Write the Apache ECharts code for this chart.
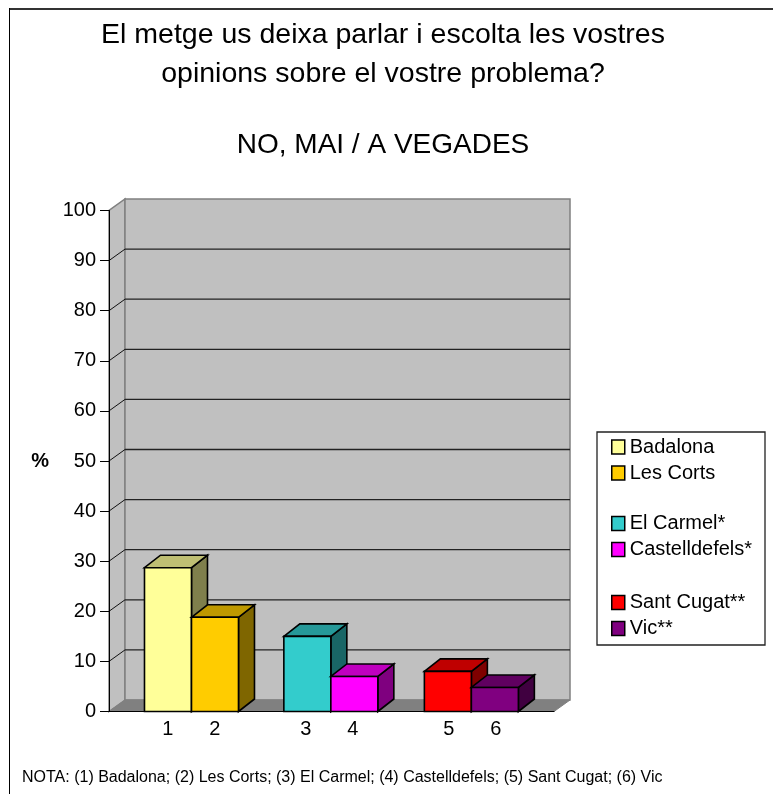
<!DOCTYPE html>
<html><head><meta charset="utf-8">
<style>html,body{margin:0;padding:0;background:#fff}#c{width:773px;height:794px}</style>
<script src="https://cdn.jsdelivr.net/npm/echarts@6/dist/echarts.min.js"></script>
</head><body><div id="c"></div>
<script>
const names = ['Badalona','Les Corts','El Carmel*','Castelldefels*','Sant Cugat**','Vic**'];
const tickLabels = ['1','2','3','4','5','6'];
const positions = [1.255,2.255,4.22,5.22,7.21,8.21];
const labelPositions = [1.25,2.25,4.19,5.19,7.23,8.23];
const values = [28.7,18.8,15,7,8,4.8];
const frontColors = ['#FFFF99','#FFCC00','#33CCCC','#FF00FF','#FF0000','#800080'];
const topColors = ['#BFBF73','#BF9900','#269999','#BF00BF','#BF0000','#600060'];
const sideColors = ['#7F7F4C','#7F6600','#196666','#7F007F','#7F0000','#400040'];
const yTicks = [0,10,20,30,40,50,60,70,80,90,100];
const xMax = 9.468, barSpan = 0.5;
const dx = 16, dy = -11.5, barDy = -12.5;
const FONT = '"Liberation Sans", Arial, sans-serif';

function poly(points, fill, stroke, lw){
  return {type:'polygon',shape:{points},style:{fill,stroke,lineWidth:lw}};
}
function line(x1,y1,x2,y2,stroke,lw){
  return {type:'line',shape:{x1,y1,x2,y2},style:{stroke,lineWidth:lw}};
}
function renderWalls(params, api){
  if(params.dataIndex!==0) return {type:'group',children:[]};
  const a=api.coord([0,0]), b=api.coord([xMax,0]), t=api.coord([0,100]);
  const c=[];
  c.push(poly([a,[a[0]+dx,a[1]+dy],[t[0]+dx,t[1]+dy],t],'#C0C0C0','#808080',1.5));
  c.push(poly([[a[0]+dx,a[1]+dy],[b[0]+dx,b[1]+dy],[b[0]+dx,t[1]+dy],[t[0]+dx,t[1]+dy]],'#C0C0C0','#808080',1.5));
  c.push(poly([a,b,[b[0]+dx,b[1]+dy],[a[0]+dx,a[1]+dy]],'#808080','#808080',1));
  yTicks.forEach(v=>{
    const p=api.coord([0,v]);
    if(v>0&&v<100) c.push(line(p[0]+dx,p[1]+dy,b[0]+dx,p[1]+dy,'#222',1.3));
    if(v>0&&v<100) c.push(line(p[0],p[1],p[0]+dx,p[1]+dy,'#111',1));
  });
  return {type:'group',children:c};
}
function renderBar(i){
  return function(params, api){
    const l=api.coord([positions[i]-barSpan,api.value(1)]);
    const r=api.coord([positions[i]+barSpan,0]);
    const x0=l[0],x1=r[0],yt=l[1],yb=r[1];
    return {type:'group',children:[
      poly([[x1,yt],[x1+dx,yt+barDy],[x1+dx,yb+barDy],[x1,yb]],sideColors[i],'#000',1.6),
      poly([[x0,yt],[x0+dx,yt+barDy],[x1+dx,yt+barDy],[x1,yt]],topColors[i],'#000',1.6),
      poly([[x0,yt],[x1,yt],[x1,yb],[x0,yb]],frontColors[i],'#000',1.6)
    ]};
  };
}
const legendBase = {orient:'vertical',left:606,icon:'rect',itemWidth:13,itemHeight:14,itemGap:-1,selectedMode:false,
  textStyle:{fontFamily:FONT,fontSize:20,lineHeight:22,color:'#000',padding:[0,0,5,0]},
  itemStyle:{borderColor:'#000',borderWidth:1.5}};
const series=[{type:'custom',name:'walls',silent:true,z:1,data:[[0,0]],renderItem:renderWalls,coordinateSystem:'cartesian2d'}];
names.forEach((n,i)=>series.push({type:'custom',name:n,z:2+i,silent:true,coordinateSystem:'cartesian2d',
  itemStyle:{color:frontColors[i]},data:[[positions[i],values[i]]],renderItem:renderBar(i),clip:false}));

const chart=echarts.init(document.getElementById('c'),null,{renderer:'canvas'});
chart.setOption({
  animation:false,backgroundColor:'#fff',
  title:[
    {text:'El metge us deixa parlar i escolta les vostres\nopinions sobre el vostre problema?',left:378,top:11,textAlign:'center',
     textStyle:{fontFamily:FONT,fontSize:28.5,fontWeight:'normal',color:'#000',lineHeight:39}},
    {text:'NO, MAI / A VEGADES',left:378,top:121,textAlign:'center',
     textStyle:{fontFamily:FONT,fontSize:28,fontWeight:'normal',color:'#000',lineHeight:39}},
    {text:'NOTA: (1) Badalona; (2) Les Corts; (3) El Carmel; (4) Castelldefels; (5) Sant Cugat; (6) Vic',left:17,top:765,
     textStyle:{fontFamily:FONT,fontSize:16,fontWeight:'normal',color:'#000'}}
  ],
  legend:[
    Object.assign({},legendBase,{top:428.5,data:names.slice(0,2)}),
    Object.assign({},legendBase,{top:505,data:names.slice(2,4)}),
    Object.assign({},legendBase,{top:584,data:names.slice(4,6)})
  ],
  grid:{left:109,top:210.5,width:445,height:501},
  xAxis:{type:'value',min:0,max:xMax,splitLine:{show:false},axisTick:{show:false},
    axisLine:{show:true,lineStyle:{color:'#000',width:1}},z:20,
    axisLabel:{customValues:labelPositions,formatter:v=>tickLabels[labelPositions.indexOf(v)],fontFamily:FONT,fontSize:20,color:'#000',margin:8}},
  yAxis:{type:'value',min:0,max:100,interval:10,splitLine:{show:false},name:'%',nameLocation:'middle',nameGap:60,nameRotate:0,
    nameTextStyle:{fontFamily:FONT,fontSize:20,fontWeight:'bold',color:'#000'},z:20,
    axisLine:{show:true,lineStyle:{color:'#000',width:1}},axisTick:{show:true,length:9,lineStyle:{color:'#000',width:1}},
    axisLabel:{fontFamily:FONT,fontSize:20,color:'#000',margin:13}},
  graphic:[
    {type:'rect',silent:true,z:-1,shape:{x:597,y:432,width:168,height:213},style:{fill:'#fff',stroke:'#222',lineWidth:1.3}},
    {type:'line',silent:true,z:-1,shape:{x1:9.5,y1:9,x2:773,y2:9},style:{stroke:'#333',lineWidth:2}},
    {type:'line',silent:true,z:-1,shape:{x1:9.5,y1:8,x2:9.5,y2:794},style:{stroke:'#000',lineWidth:1}}
  ],
  series
});
</script></body></html>
